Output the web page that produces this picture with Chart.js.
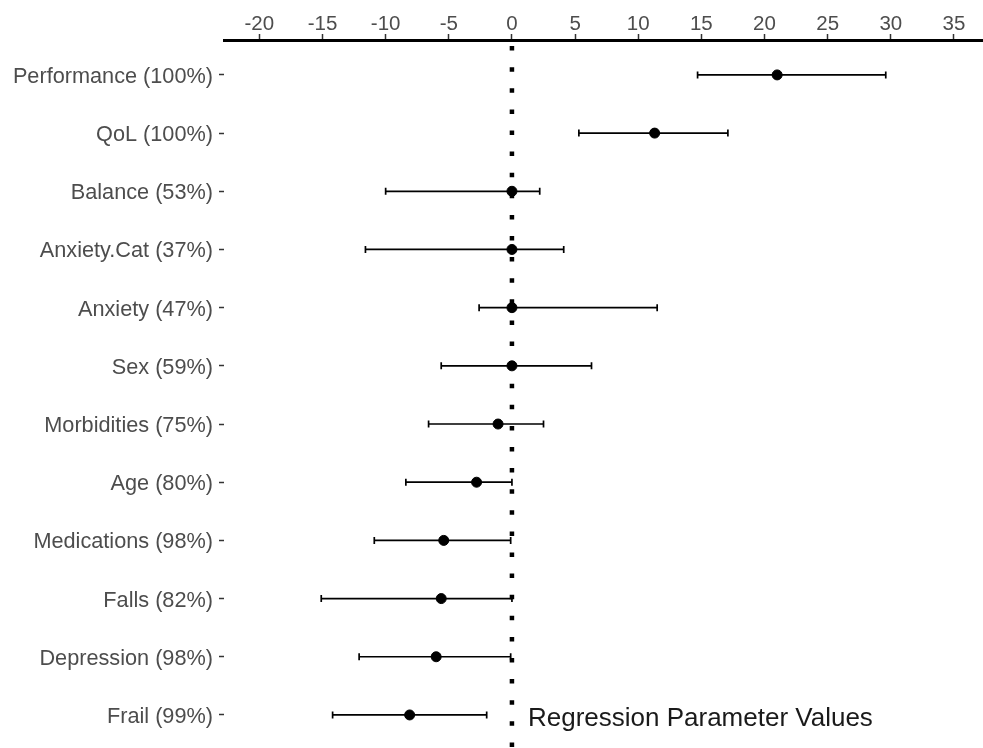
<!DOCTYPE html>
<html>
<head>
<meta charset="utf-8">
<script src="https://cdn.jsdelivr.net/npm/chart.js@4.4.1/dist/chart.umd.min.js"></script>
<style>
html,body{margin:0;padding:0;background:#fff;}
canvas{display:block;}
</style>
</head>
<body>
<canvas id="c" width="983" height="748"></canvas>
<script>
const categories = ["Performance (100%)","QoL (100%)","Balance (53%)","Anxiety.Cat (37%)","Anxiety (47%)","Sex (59%)","Morbidities (75%)","Age (80%)","Medications (98%)","Falls (82%)","Depression (98%)","Frail (99%)"];
const estimates = [21.0, 11.3, 0.0, 0.0, 0.0, 0.0, -1.1, -2.8, -5.4, -5.6, -6.0, -8.1];
const lowerBounds = [14.7, 5.3, -10.0, -11.6, -2.6, -5.6, -6.6, -8.4, -10.9, -15.1, -12.1, -14.2];
const upperBounds = [29.6, 17.1, 2.2, 4.1, 11.5, 6.3, 2.5, 0.0, -0.1, 0.0, -0.1, -2.0];
const xTickValues = [-20, -15, -10, -5, 0, 5, 10, 15, 20, 25, 30, 35];
const referenceValue = 0;
const annotationText = "Regression Parameter Values";

const pointData = estimates.map((v, i) => ({x: v, y: i}));

function zeroPad(s) { s.paddingTop = 0; s.paddingBottom = 0; s.paddingLeft = 0; s.paddingRight = 0; }

const errorBarPlugin = {
  id: 'errorBars',
  afterDatasetsDraw(chart) {
    const ctx = chart.ctx;
    const xs = chart.scales.x, ys = chart.scales.y;
    ctx.save();
    ctx.strokeStyle = '#000';
    ctx.lineWidth = 1.7;
    for (let i = 0; i < categories.length; i++) {
      const y = ys.getPixelForValue(i);
      const x1 = xs.getPixelForValue(lowerBounds[i]);
      const x2 = xs.getPixelForValue(upperBounds[i]);
      ctx.beginPath();
      ctx.moveTo(x1, y); ctx.lineTo(x2, y);
      ctx.moveTo(x1, y - 3.5); ctx.lineTo(x1, y + 3.5);
      ctx.moveTo(x2, y - 3.5); ctx.lineTo(x2, y + 3.5);
      ctx.stroke();
    }
    ctx.fillStyle = '#1a1a1a';
    ctx.font = '26px "Liberation Sans", Arial, sans-serif';
    ctx.textBaseline = 'middle';
    ctx.textAlign = 'left';
    ctx.fillText(annotationText, xs.getPixelForValue(referenceValue) + 16, ys.getPixelForValue(categories.length - 1) + 4);
    ctx.restore();
  }
};

new Chart(document.getElementById('c'), {
  type: 'scatter',
  data: {
    datasets: [
      {
        type: 'line',
        data: [{x: referenceValue, y: -0.6}, {x: referenceValue, y: 11.6}],
        borderColor: '#000',
        borderWidth: 4.5,
        borderDash: [4.5, 16.6],
        borderDashOffset: 15,
        borderCapStyle: 'butt',
        pointRadius: 0,
        fill: false,
        order: 2
      },
      {
        data: pointData,
        backgroundColor: '#000',
        borderColor: '#000',
        pointRadius: 5,
        pointHoverRadius: 5,
        order: 1
      }
    ]
  },
  options: {
    responsive: false,
    animation: false,
    events: [],
    layout: {padding: 0, autoPadding: false},
    plugins: {legend: {display: false}, tooltip: {enabled: false}},
    scales: {
      x: {
        type: 'linear',
        position: 'top',
        min: -22.8,
        max: 37.3,
        afterBuildTicks: (s) => { s.ticks = xTickValues.map(v => ({value: v})); },
        afterFit: (s) => { s.height = 40; zeroPad(s); },
        ticks: {
          color: '#4d4d4d',
          font: {family: '"Liberation Sans", Arial, sans-serif', size: 20.5},
          padding: -3,
          maxRotation: 0,
          autoSkip: false
        },
        grid: {drawOnChartArea: false, drawTicks: true, tickLength: 6, tickColor: '#333', tickWidth: 1.5},
        border: {display: true, color: '#000', width: 3}
      },
      y: {
        type: 'linear',
        reverse: true,
        min: -0.6,
        max: 11.568,
        afterBuildTicks: (s) => { s.ticks = categories.map((_, i) => ({value: i})); },
        afterFit: (s) => { s.width = 224; zeroPad(s); },
        ticks: {
          color: '#4d4d4d',
          font: {family: '"Liberation Sans", Arial, sans-serif', size: 21.7},
          padding: 6,
          labelOffset: 2,
          autoSkip: false,
          callback: (v) => categories[v]
        },
        grid: {drawOnChartArea: false, drawTicks: true, tickLength: 5, tickColor: '#333', tickWidth: 1.5},
        border: {display: false}
      }
    }
  },
  plugins: [errorBarPlugin]
});
</script>
</body>
</html>
